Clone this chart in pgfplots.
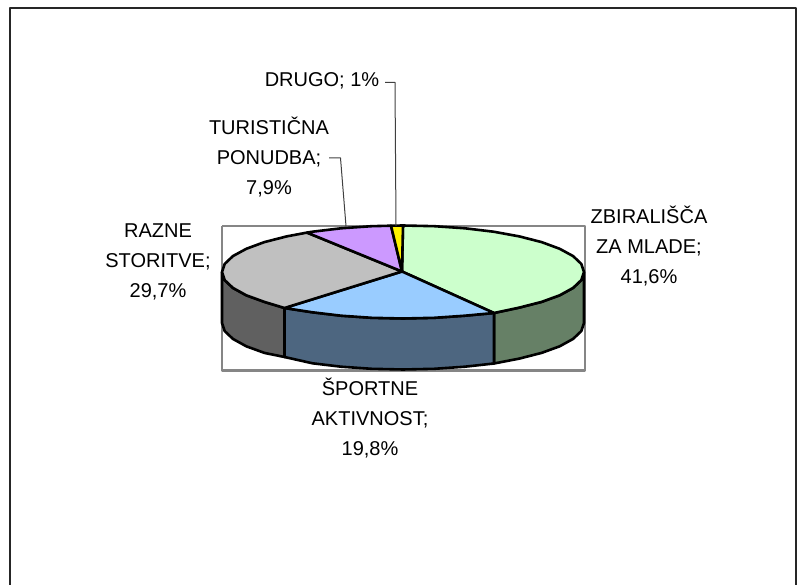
\documentclass[border=0pt]{standalone}
\usepackage{fontspec}
\setmainfont{Liberation Sans}
\usepackage{pgfplots}
\pgfplotsset{compat=1.18}

\definecolor{zgreen}{HTML}{CCFFCC}
\definecolor{zgreens}{HTML}{668066}
\definecolor{zblue}{HTML}{99CCFF}
\definecolor{zblues}{HTML}{4D6680}
\definecolor{zgray}{HTML}{C0C0C0}
\definecolor{zgrays}{HTML}{606060}
\definecolor{zpurple}{HTML}{CC99FF}
\definecolor{zframe}{HTML}{868686}
\tikzset{lab/.style={font=\fontsize{20}{30}\selectfont, align=center, inner sep=0pt, text=black}}

\begin{document}
\begin{tikzpicture}
\useasboundingbox (0,0) rectangle (801pt,585pt);
\begin{axis}[
    at={(0,0)},
    anchor=south west,
    scale only axis,
    width=801pt,
    height=585pt,
    xmin=0, xmax=801,
    ymin=0, ymax=585,
    y dir=reverse,
    hide axis,
    clip=false,
    no markers,
    every axis plot/.append style={sharp plot, line join=round},
]
% chart border, cut off at the bottom of the picture
\addplot[black!85, line width=2pt] coordinates {(10,585) (10,8.5) (796,8.5) (796,585)};
% plot area
\addplot[zframe, line width=2.4pt] coordinates {(222,226) (585,226) (585,370.5) (222,370.5) (222,226)};

% side walls
\addplot[fill=zgreens, draw=black, line width=2.6pt] coordinates {
    (584,272) (581.3,280.1) (573.1,287.9) (559.7,295.3) (541.6,301.9) (519.3,307.6) (494,313)
    (494,363.5) (519.3,358.6) (541.6,352.9) (559.7,346.3) (573.1,338.9) (581.3,331.1) (584,323)
} -- cycle;
\addplot[fill=zblues, draw=black, line width=2.6pt] coordinates {
    (494,313) (464.9,315.7) (434.4,317.8) (403,318.5) (371.6,317.8) (341.1,315.7) (312.5,312.3) (284.5,308)
    (284.5,357) (312.5,363.3) (341.1,366.7) (371.6,368.8) (403,369.5) (434.4,368.8) (464.9,366.7) (494,363.5)
} -- cycle;
\addplot[fill=zgrays, draw=black, line width=2.6pt] coordinates {
    (284.5,308) (264.4,301.9) (246.3,295.3) (232.9,287.9) (224.7,280.1) (222,272)
    (222,323) (224.7,331.1) (232.9,338.9) (246.3,346.3) (264.4,352.9) (284.5,357)
} -- cycle;

% top faces
\addplot[fill=zgreen, draw=black, line width=2.6pt] coordinates {
    (402,271.5) (403,225.5) (434.4,226.2) (464.9,228.3) (493.5,231.7) (519.3,236.4) (541.6,242.1)
    (559.7,248.8) (573.1,256.1) (581.3,263.9) (584,272) (581.3,280.1) (573.1,287.9) (559.7,295.3)
    (541.6,301.9) (519.3,307.6) (494,313)
} -- cycle;
\addplot[fill=zblue, draw=black, line width=2.6pt] coordinates {
    (402,271.5) (494,313) (464.9,315.7) (434.4,317.8) (403,318.5) (371.6,317.8) (341.1,315.7)
    (312.5,312.3) (284.5,308)
} -- cycle;
\addplot[fill=zgray, draw=black, line width=2.6pt] coordinates {
    (402,271.5) (284.5,308) (264.4,301.9) (246.3,295.3) (232.9,287.9) (224.7,280.1) (222,272)
    (224.7,263.9) (232.9,256.1) (246.3,248.8) (264.4,242.1) (286.7,236.4) (307,232.6)
} -- cycle;
\addplot[fill=zpurple, draw=black, line width=2.6pt] coordinates {
    (402,271.5) (307,232.6) (312.5,231.7) (341.1,228.3) (371.6,226.2) (391,225.7)
} -- cycle;
\addplot[fill=yellow, draw=black, line width=2.6pt] coordinates {
    (402,271.5) (391,225.7) (403,225.5)
} -- cycle;

% leader lines
\addplot[black!75, line width=1pt] coordinates {(385,82.5) (395,82.5) (396,226)};
\addplot[black!75, line width=1pt] coordinates {(329,158) (340.5,158) (346,226)};

% data labels
\node[lab] at (axis cs:322,81) {DRUGO; 1\%};
\node[lab] at (axis cs:269,157) {TURISTIČNA\\PONUDBA;\\7,9\%};
\node[lab] at (axis cs:158,262) {RAZNE\\STORITVE;\\29,7\%};
\node[lab] at (axis cs:649,246) {ZBIRALIŠČA\\ZA MLADE;\\41,6\%};
\node[lab] at (axis cs:370,418) {ŠPORTNE\\AKTIVNOST;\\19,8\%};
\end{axis}
\end{tikzpicture}
\end{document}
